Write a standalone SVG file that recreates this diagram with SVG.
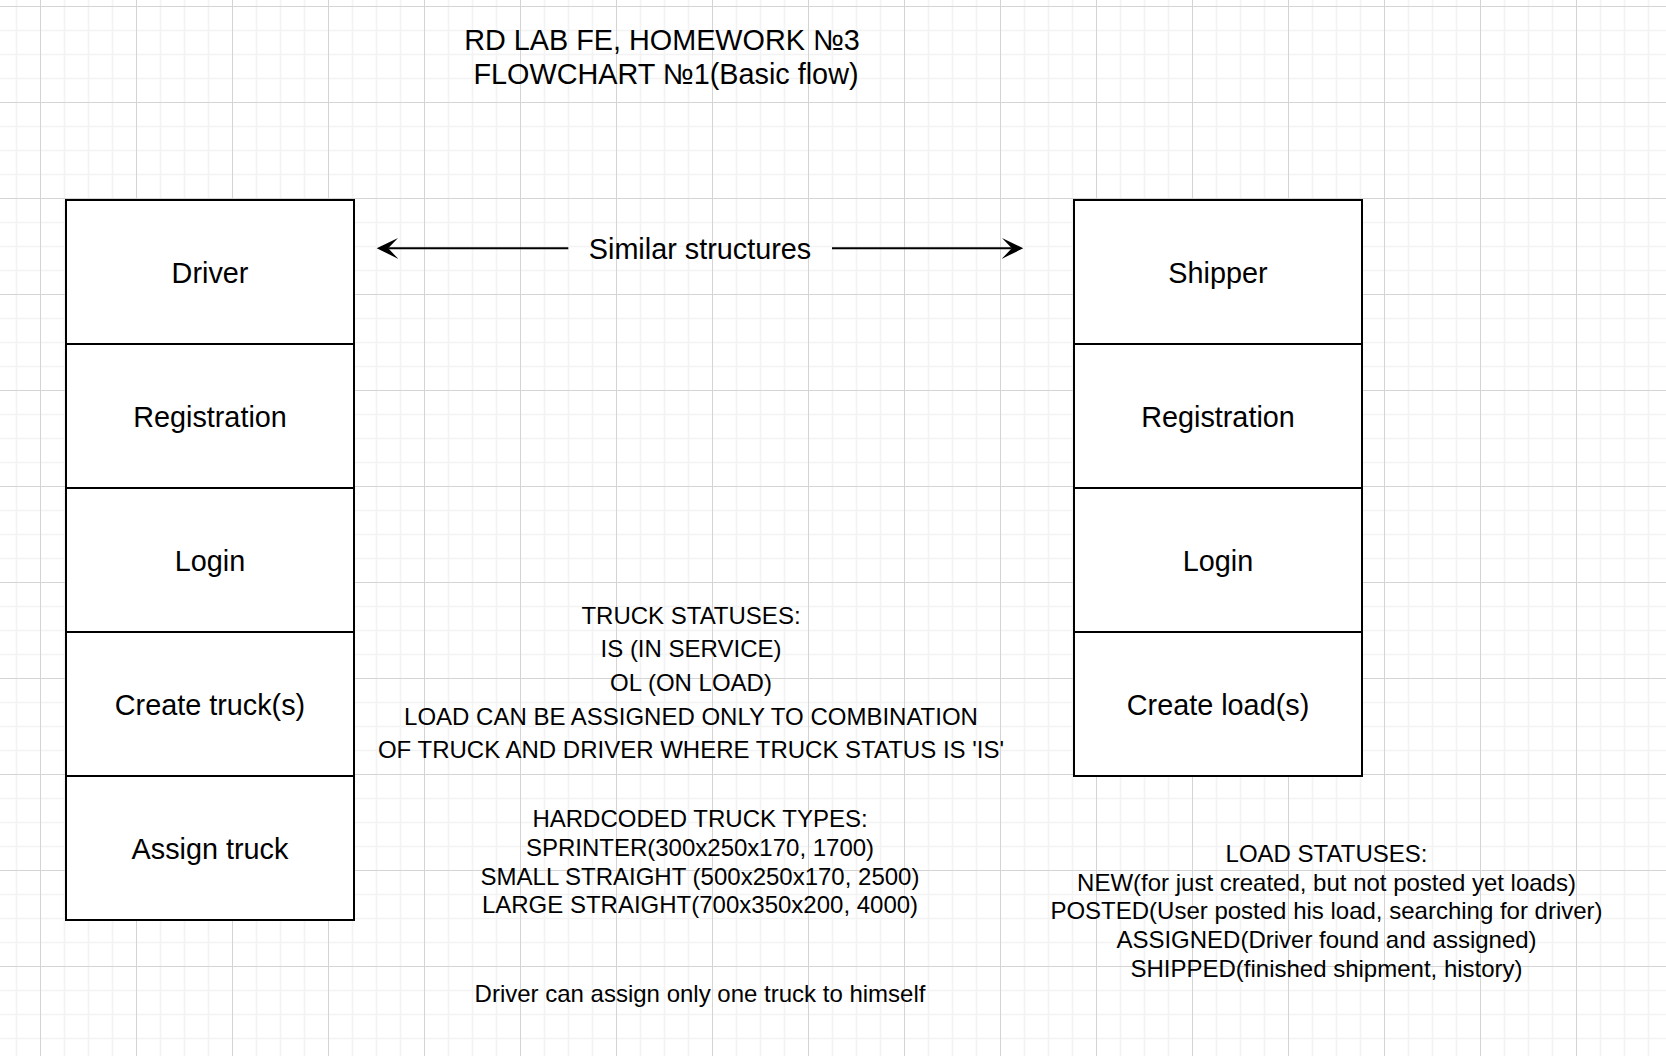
<svg xmlns="http://www.w3.org/2000/svg" width="1666" height="1056" viewBox="0 0 1666 1056">
  <defs>
    <pattern id="grid" x="28" y="-6" width="96" height="96" patternUnits="userSpaceOnUse">
      <rect width="96" height="96" fill="#ffffff"/>
      <path d="M36.5 0V96M60.5 0V96M84.5 0V96M0 36.5H96M0 60.5H96M0 84.5H96" stroke="#f3f3f3" stroke-width="1.6" fill="none"/>
      <path d="M12.5 0V96M0 12.5H96" stroke="#d4d4d4" stroke-width="1" fill="none"/>
    </pattern>
    <marker id="arrow" viewBox="0 0 22 22" refX="10" refY="11" markerWidth="22" markerHeight="22" markerUnits="userSpaceOnUse" orient="auto">
      <path d="M0 0.5 L21.5 11 L0 21.5 L10 11 Z" fill="#000000"/>
    </marker>
    <style>
      .box { fill: #ffffff; stroke: #000000; stroke-width: 2; }
      .lbl { font-family: "Liberation Sans", Arial, Helvetica, sans-serif; font-size: 28.8px; fill: #000000; text-anchor: middle; }
      .note { font-family: "Liberation Sans", Arial, Helvetica, sans-serif; font-size: 24px; fill: #000000; text-anchor: middle; }
      .conn { stroke: #000000; stroke-width: 2; fill: none; }
    </style>
  </defs>

  <rect x="0" y="0" width="1666" height="1056" fill="url(#grid)"/>

  <g id="title">
    <text class="lbl" x="662" y="50">RD LAB FE, HOMEWORK №3</text>
    <text class="lbl" x="666" y="83.5">FLOWCHART №1(Basic flow)</text>
  </g>

  <g id="driver-column">
    <g id="driver">
      <rect class="box" x="66" y="200" width="288" height="144"/>
      <text class="lbl" x="210" y="282.8">Driver</text>
    </g>
    <g id="driver-registration">
      <rect class="box" x="66" y="344" width="288" height="144"/>
      <text class="lbl" x="210" y="426.8">Registration</text>
    </g>
    <g id="driver-login">
      <rect class="box" x="66" y="488" width="288" height="144"/>
      <text class="lbl" x="210" y="570.8">Login</text>
    </g>
    <g id="create-trucks">
      <rect class="box" x="66" y="632" width="288" height="144"/>
      <text class="lbl" x="210" y="714.8">Create truck(s)</text>
    </g>
    <g id="assign-truck">
      <rect class="box" x="66" y="776" width="288" height="144"/>
      <text class="lbl" x="210" y="858.8">Assign truck</text>
    </g>
  </g>

  <g id="shipper-column">
    <g id="shipper">
      <rect class="box" x="1074" y="200" width="288" height="144"/>
      <text class="lbl" x="1218" y="282.8">Shipper</text>
    </g>
    <g id="shipper-registration">
      <rect class="box" x="1074" y="344" width="288" height="144"/>
      <text class="lbl" x="1218" y="426.8">Registration</text>
    </g>
    <g id="shipper-login">
      <rect class="box" x="1074" y="488" width="288" height="144"/>
      <text class="lbl" x="1218" y="570.8">Login</text>
    </g>
    <g id="create-loads">
      <rect class="box" x="1074" y="632" width="288" height="144"/>
      <text class="lbl" x="1218" y="714.8">Create load(s)</text>
    </g>
  </g>

  <g id="connectors">
    <line class="conn" x1="568.3" y1="248.3" x2="388.2" y2="248.3" marker-end="url(#arrow)"/>
    <line class="conn" x1="832" y1="248.3" x2="1011.8" y2="248.3" marker-end="url(#arrow)"/>
  </g>

  <g id="similar-structures">
    <text class="lbl" x="700" y="258.5">Similar structures</text>
  </g>

  <g id="truck-statuses">
    <text class="note" x="691" y="623.5">TRUCK STATUSES:</text>
    <text class="note" x="691" y="657">IS (IN SERVICE)</text>
    <text class="note" x="691" y="690.5">OL (ON LOAD)</text>
    <text class="note" x="691" y="724.5">LOAD CAN BE ASSIGNED ONLY TO COMBINATION</text>
    <text class="note" x="691" y="758">OF TRUCK AND DRIVER WHERE TRUCK STATUS IS 'IS'</text>
  </g>

  <g id="truck-types">
    <text class="note" x="700" y="827.3">HARDCODED TRUCK TYPES:</text>
    <text class="note" x="700" y="856">SPRINTER(300x250x170, 1700)</text>
    <text class="note" x="700" y="884.7">SMALL STRAIGHT (500x250x170, 2500)</text>
    <text class="note" x="700" y="913.3">LARGE STRAIGHT(700x350x200, 4000)</text>
  </g>

  <g id="driver-note">
    <text class="note" x="700" y="1002.3">Driver can assign only one truck to himself</text>
  </g>

  <g id="load-statuses">
    <text class="note" x="1326.5" y="861.7">LOAD STATUSES:</text>
    <text class="note" x="1326.5" y="890.5">NEW(for just created, but not posted yet loads)</text>
    <text class="note" x="1326.5" y="919.3">POSTED(User posted his load, searching for driver)</text>
    <text class="note" x="1326.5" y="948">ASSIGNED(Driver found and assigned)</text>
    <text class="note" x="1326.5" y="976.8">SHIPPED(finished shipment, history)</text>
  </g>
</svg>
